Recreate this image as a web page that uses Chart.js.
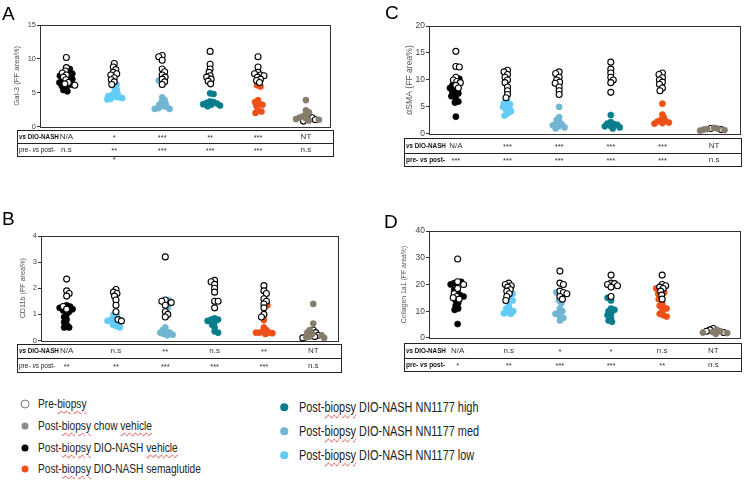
<!DOCTYPE html>
<html><head><meta charset="utf-8">
<script src="https://cdn.jsdelivr.net/npm/chart.js@4/dist/chart.umd.min.js"></script>
<style>
body{margin:0;background:#fff;width:745px;height:483px;position:relative;overflow:hidden;font-family:"Liberation Sans",Arial,sans-serif}
canvas{position:absolute}
.lbl{position:absolute;font-size:19px;line-height:19px;color:#000;z-index:3}
.tbl{position:absolute;border:1px solid #222;box-sizing:border-box}
.div{position:absolute;left:0;right:0;border-top:1px solid #222}
.t{position:absolute;transform:translate(-50%,-50%);white-space:nowrap;color:#333;font-size:8px;line-height:8px}
.rl{position:absolute;white-space:nowrap;color:#111;transform:translateY(-50%);line-height:8px}
.lg{position:absolute;white-space:nowrap;color:#222;transform-origin:left center;transform:translateY(-50%) scaleX(0.78)}
.sp{text-decoration:underline wavy #e0403a;text-decoration-thickness:1px;text-underline-offset:2px}
.mk{position:absolute;border-radius:50%;box-sizing:border-box;transform:translate(-50%,-50%)}
</style></head>
<body>
<div class="lbl" style="left:2px;top:4px">A</div>
<div class="lbl" style="left:385px;top:3px">C</div>
<div class="lbl" style="left:2px;top:209px">B</div>
<div class="lbl" style="left:384px;top:212px">D</div>
<div id="root"></div>
<script>
// ---- groups (x order) ----
const groups = ["DIO-NASH vehicle","DIO-NASH NN1177 low","DIO-NASH NN1177 med","DIO-NASH NN1177 high","DIO-NASH semaglutide","chow vehicle"];
const groupColors = ["#000000","#62cbf6","#72b6d2","#0a7d8c","#ee5018","#857c6a"];

// ---- Panel A: Gal-3 ----
const galPre = [
 [10.2, 8.7, 8.2, 7.9, 7.6, 7.3, 6.9, 6.5, 6.3, 6.1],
 [9.3, 8.8, 8.4, 8.0, 7.8, 7.6, 7.2, 6.9, 6.6, 6.2],
 [10.5, 10.3, 9.8, 8.5, 8.1, 7.6, 7.3, 7.0, 6.6, 6.2],
 [11.1, 9.2, 8.5, 8.0, 7.5, 7.3, 7.0, 6.7, 6.3],
 [10.3, 8.8, 8.0, 7.8, 7.6, 7.5, 7.3, 7.0, 6.8, 6.5],
 [1.5, 1.3, 1.0, 0.8]
];
const galPost = [
 [8.5, 8.0, 7.8, 7.5, 7.2, 7.0, 6.8, 6.5, 6.2, 6.0, 5.7, 5.4, 5.2],
 [6.2, 5.8, 5.4, 5.0, 4.8, 4.6, 4.5, 4.4, 4.3, 4.2, 4.1, 4.0],
 [6.8, 4.3, 3.9, 3.6, 3.4, 3.2, 3.0, 2.9, 2.7, 2.6, 2.6],
 [4.9, 4.8, 3.7, 3.6, 3.5, 3.4, 3.3, 3.2, 3.1, 3.0],
 [6.1, 5.9, 3.9, 3.6, 3.4, 3.2, 3.0, 2.4, 2.2, 2.0],
 [3.9, 2.4, 2.1, 1.8, 1.5, 1.3, 1.2, 1.1, 1.0, 0.9]
];
const galTicks = [0, 5, 10, 15];
const galVsDio = ["N/A","*","***","**","***","NT"];
const galPrePost = ["n.s","**","***","***","***","n.s"];

// ---- Panel B: CD11b ----
const cdPre = [
 [2.35, 1.9, 1.8, 1.7, 1.3, 1.2],
 [1.95, 1.85, 1.8, 1.7, 1.55, 1.35, 1.1, 0.8, 0.75],
 [3.2, 1.55, 1.5, 1.45, 1.35, 1.1, 1.0, 0.9],
 [2.3, 2.25, 2.15, 2.0, 1.85, 1.5, 1.5, 1.25],
 [2.1, 1.9, 1.8, 1.6, 1.5, 1.4, 1.25, 1.0, 0.9],
 [0.4, 0.3, 0.2, 0.15, 0.1]
];
const cdPost = [
 [1.35, 1.3, 1.25, 1.2, 1.15, 1.1, 1.0, 0.9, 0.8, 0.7, 0.6, 0.5, 0.5],
 [1.0, 0.95, 0.85, 0.8, 0.75, 0.7, 0.65, 0.6, 0.55, 0.5],
 [1.55, 1.25, 0.5, 0.4, 0.35, 0.3, 0.3, 0.25, 0.22, 0.2],
 [0.85, 0.8, 0.8, 0.75, 0.7, 0.6, 0.5, 0.35, 0.3],
 [1.35, 0.78, 0.5, 0.4, 0.35, 0.3, 0.3, 0.28, 0.3, 0.25],
 [1.4, 0.65, 0.4, 0.3, 0.25, 0.2, 0.15, 0.12, 0.1]
];
const cdTicks = [0, 1, 2, 3, 4];
const cdVsDio = ["N/A","n.s","**","n.s","**","NT"];
const cdPrePost = ["**","**","***","***","***","n.s"];

// ---- Panel C: αSMA ----
const smaPre = [
 [15.3, 12.5, 12.4, 10.5, 10.0, 9.7, 9.5, 9.0, 8.5],
 [11.8, 11.5, 11.0, 10.5, 10.0, 9.5, 8.7, 8.0, 7.3, 6.7],
 [11.5, 11.2, 10.5, 10.0, 9.6, 9.4, 8.7, 8.0, 7.3],
 [13.3, 12.0, 11.3, 10.5, 10.0, 9.5, 7.7],
 [11.3, 11.0, 10.4, 10.0, 9.6, 9.2, 8.5, 8.0],
 [1.0, 0.8]
];
const smaPost = [
 [10.2, 9.0, 8.5, 8.0, 7.8, 7.5, 7.3, 7.0, 6.5, 6.0, 5.8, 3.2],
 [6.0, 5.7, 5.5, 5.2, 5.0, 4.8, 4.5, 4.2, 3.8, 3.4],
 [5.0, 3.1, 2.6, 2.2, 1.9, 1.7, 1.6, 1.4, 1.2, 1.0],
 [3.5, 2.2, 1.9, 1.8, 1.7, 1.5, 1.4, 1.2, 1.0],
 [5.6, 3.6, 3.0, 2.6, 2.4, 2.3, 2.1, 2.0, 1.9],
 [1.1, 1.0, 0.9, 0.8, 0.7, 0.6]
];
const smaTicks = [0, 5, 10, 15, 20];
const smaVsDio = ["N/A","***","***","***","***","NT"];
const smaPrePost = ["***","***","***","***","***","n.s"];

// ---- Panel D: Collagen 1a1 ----
const colPre = [
 [29.5, 21.0, 20.0, 18.5, 16.5, 15.5, 15.0, 14.5],
 [20.5, 20.0, 19.5, 19.0, 18.0, 17.5, 16.5, 15.5, 14.0],
 [25.0, 20.5, 20.0, 17.5, 17.0, 16.5, 15.5, 14.5],
 [23.5, 20.5, 20.3, 20.0, 19.5, 19.0, 15.5],
 [23.5, 20.0, 19.5, 19.0, 18.5, 17.5, 16.0, 14.5],
 [3.5, 3.0, 2.5, 2.0]
];
const colPost = [
 [21.0, 20.5, 20.0, 18.0, 17.0, 16.0, 15.5, 14.0, 13.0, 12.0, 11.0, 10.5, 5.2],
 [16.5, 14.5, 14.0, 12.0, 11.0, 10.5, 10.0, 9.5, 9.2, 9.0],
 [17.0, 14.0, 13.0, 11.0, 10.0, 9.5, 9.0, 8.0, 7.5, 6.5],
 [15.0, 14.0, 11.0, 10.5, 10.0, 9.0, 8.5, 7.5, 6.5, 6.0],
 [18.5, 17.0, 16.5, 14.5, 13.0, 12.0, 11.5, 11.0, 10.0, 9.0, 8.5, 8.0],
 [3.0, 2.5, 2.2, 2.0, 1.8, 1.5]
];
const colTicks = [0, 10, 20, 30, 40];
const colVsDio = ["N/A","n.s","*","*","n.s","NT"];
const colPrePost = ["*","**","***","***","**","n.s"];

// ---- layout (positions only) ----
const FONT = '"Liberation Sans", Arial, sans-serif';
const panels = [
 {title:"Gal-3 (FF area%)", pre:galPre, post:galPost, ticks:galTicks, vs:galVsDio, pp:galPrePost,
  area:{l:40,r:332,t:25,b:127}, xr:[-0.55,5.5], tickSize:7.5, titleSize:7.7, titlePad:12,
  tbl:{l:17,t:130,r:334,b:157,d:143}, ppBold:false, extra:{col:1,text:"*",y:160}},
 {title:"CD11b (FF area%)", pre:cdPre, post:cdPost, ticks:cdTicks, vs:cdVsDio, pp:cdPrePost,
  area:{l:41,r:340,t:236,b:341}, xr:[-0.52,5.5], tickSize:7.5, titleSize:7.2, titlePad:18,
  tbl:{l:17,t:344,r:342,b:373,d:358}, ppBold:false},
 {title:"αSMA (FF area%)", pre:smaPre, post:smaPost, ticks:smaTicks, vs:smaVsDio, pp:smaPrePost,
  area:{l:429,r:742,t:26,b:135}, xr:[-0.52,5.5], tickSize:8.5, titleSize:8.6, titlePad:15,
  tbl:{l:404,t:138,r:742,b:167,d:153}, ppBold:true},
 {title:"Collagen 1a1 (FF area%)", pre:colPre, post:colPost, ticks:colTicks, vs:colVsDio, pp:colPrePost,
  area:{l:429,r:742,t:231,b:339}, xr:[-0.56,5.52], tickSize:8.5, titleSize:6.9, titlePad:11,
  tbl:{l:404,t:343,r:742,b:372,d:358}, ppBold:true}
];

function swarm(pys, minDist){
  const idx = pys.map((v,i)=>i).sort((a,b)=>pys[b]-pys[a]);
  const placed=[]; const off=new Array(pys.length).fill(0);
  let flip = 1;
  for (const i of idx){
    const y=pys[i]; let best=0;
    for (let s=0;s<80;s++){
      const mag=Math.ceil(s/2)*0.5;
      const cand = s===0?0:((s%2)?flip:-flip)*mag;
      if (placed.every(p=>(p.x-cand)**2+(p.y-y)**2>=minDist*minDist)){best=cand;break;}
    }
    flip=-flip;
    placed.push({x:best,y}); off[i]=best;
  }
  return off;
}

const frame = {id:'frame', beforeDatasetsDraw(c){const a=c.chartArea,x=c.ctx;x.save();x.strokeStyle='#333';x.lineWidth=1;
  x.strokeRect(Math.round(a.left)+0.5,Math.round(a.top)+0.5,Math.round(a.right-a.left),Math.round(a.bottom-a.top));x.restore();}};

const root=document.getElementById('root');
function el(cls, style, html){const d=document.createElement('div');d.className=cls;d.setAttribute('style',style);if(html!==undefined)d.innerHTML=html;root.appendChild(d);return d;}

panels.forEach(p=>{
  const cl=p.area.l-40, ct=p.area.t-10, padR=3;
  const w=p.area.r-cl+padR, h=p.area.b+5-ct;
  const cv=document.createElement('canvas'); cv.width=w; cv.height=h;
  cv.style.left=cl+'px'; cv.style.top=ct+'px'; cv.style.width=w+'px'; cv.style.height=h+'px';
  root.appendChild(cv);
  const ymax=p.ticks[p.ticks.length-1];
  const ds=[];
  const order=[5,'pre',0,1,2,3,4];
  order.forEach(k=>{
    if(k==='pre') ds.push({label:'Pre-biopsy',key:'pre',data:[],pointRadius:3,pointBorderWidth:1.1,
      backgroundColor:'#ffffff',borderColor:'#000000',clip:6});
    else ds.push({label:groups[k],key:k,data:[],pointRadius:3.1,pointBorderWidth:0.5,
      backgroundColor:groupColors[k],borderColor:groupColors[k],clip:6});
  });
  const chart=new Chart(cv,{type:'scatter',data:{datasets:ds},plugins:[frame],
    options:{responsive:false,animation:false,events:[],
      layout:{padding:{top:10,bottom:5,left:0,right:padR}},
      plugins:{legend:{display:false},tooltip:{enabled:false}},
      scales:{
        x:{type:'linear',min:p.xr[0],max:p.xr[1],display:false},
        y:{min:0,max:ymax,afterBuildTicks:s=>{s.ticks=p.ticks.map(v=>({value:v}));},
           afterFit:s=>{s.width=40;},
           ticks:{font:{size:p.tickSize,family:FONT},color:'#444',padding:1},
           grid:{drawOnChartArea:false,tickLength:3,color:'#333'},
           border:{color:'#333'},
           title:{display:true,text:p.title,color:'#555',font:{size:p.titleSize,family:FONT},padding:{top:p.titlePad,bottom:0}}}
      }}});
  const ys=chart.scales.y, xs=chart.scales.x;
  const pxY=(ys.bottom-ys.top)/(ys.max-ys.min), pxX=(xs.right-xs.left)/(xs.max-xs.min);
  const preData=[], postData=groups.map(()=>[]);
  for(let g=0;g<6;g++){
    const vals=p.pre[g].concat(p.post[g]);
    const offs=swarm(vals.map(v=>v*pxY),3.5);
    vals.forEach((v,i)=>{
      const pt={x:g+offs[i]/pxX,y:v};
      if(i<p.pre[g].length) preData.push(pt); else postData[g].push(pt);
    });
  }
  chart.data.datasets.forEach(d=>{d.data = d.key==='pre'?preData:postData[d.key];});
  chart.update('none');

  const t=p.tbl;
  const box=el('tbl',`left:${t.l}px;top:${t.t}px;width:${t.r-t.l}px;height:${t.b-t.t}px`);
  const dv=document.createElement('div');dv.className='div';dv.style.top=(t.d-t.t-1)+'px';box.appendChild(dv);
  const r1=(t.t+t.d)/2, r2=(t.d+t.b)/2;
  el('rl',`left:${t.l+2}px;top:${r1}px;font-size:6.3px;font-weight:bold`,'<i>vs</i> DIO-NASH');
  el('rl',`left:${t.l+2}px;top:${r2}px;font-size:6.5px;font-weight:${p.ppBold?'bold':'normal'}`,'pre- <i>vs</i> post-');
  for(let g=0;g<6;g++){
    const cx=cl+xs.getPixelForValue(g);
    const big=/[A-Za-z]/.test(p.vs[g]);
    el('t',`left:${cx}px;top:${r1+(big?0:1)}px;font-size:${big?8:7.5}px`,p.vs[g]);
    const big2=/[A-Za-z]/.test(p.pp[g]);
    el('t',`left:${cx}px;top:${r2+(big2?0:1)}px;font-size:${big2?8:7.5}px`,p.pp[g]);
  }
  if(p.extra){ el('t',`left:${cl+xs.getPixelForValue(p.extra.col)}px;top:${p.extra.y}px;font-size:7.5px`,p.extra.text); }
});

// ---- legend ----
const legendLeft = [
 {html:'Pre-<span class="sp">biopsy</span>', open:true, color:'#777', y:404},
 {html:'Post-<span class="sp">biopsy</span> chow <span class="sp">vehicle</span>', color:'#8a8a8a', y:426},
 {html:'Post-<span class="sp">biopsy</span> DIO-NASH <span class="sp">vehicle</span>', color:'#000000', y:448},
 {html:'Post-<span class="sp">biopsy</span> DIO-NASH semaglutide', color:'#ee5018', y:469}
];
const legendRight = [
 {html:'Post-<span class="sp">biopsy</span> DIO-NASH NN1177 high', color:'#0a7d8c', y:407},
 {html:'Post-<span class="sp">biopsy</span> DIO-NASH NN1177 med', color:'#72b6d2', y:431},
 {html:'Post-<span class="sp">biopsy</span> DIO-NASH NN1177 low', color:'#62cbf6', y:455}
];
legendLeft.forEach(it=>{
  if(it.open) el('mk',`left:25px;top:${it.y}px;width:9px;height:9px;border:1.6px solid ${it.color};background:#fff`);
  else el('mk',`left:25px;top:${it.y}px;width:7px;height:7px;background:${it.color}`);
  el('lg',`left:38px;top:${it.y-1}px;font-size:13px`,it.html);
});
legendRight.forEach(it=>{
  el('mk',`left:284px;top:${it.y}px;width:7.5px;height:7.5px;background:${it.color}`);
  el('lg',`left:299px;top:${it.y}px;font-size:14px`,it.html);
});
</script>
</body></html>
